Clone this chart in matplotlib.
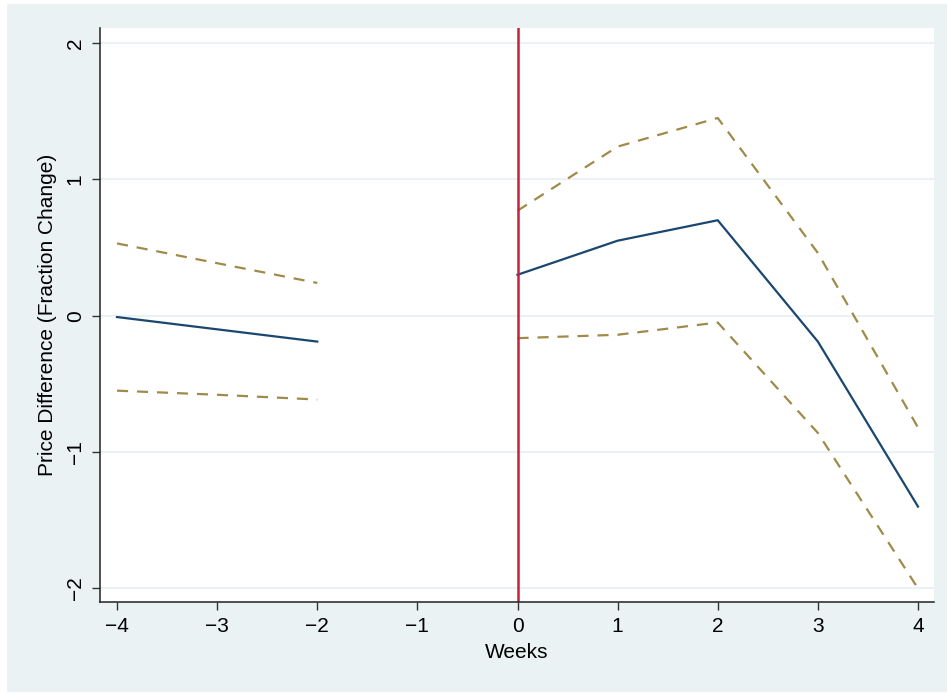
import matplotlib
matplotlib.use("Agg")
import matplotlib.pyplot as plt
from matplotlib.patches import Rectangle

plt.rcParams['font.family'] = ['Liberation Sans', 'DejaVu Sans']

# event-time estimates, week -1 omitted (reference week)
weeks_pre = [-4, -3, -2]
est_pre = [-0.01, -0.10, -0.19]
hi_pre = [0.53, 0.385, 0.24]
lo_pre = [-0.55, -0.58, -0.615]

weeks_post = [0, 1, 2, 3, 4]
est_post = [0.30, 0.55, 0.70, -0.19, -1.40]
hi_post = [0.77, 1.24, 1.45, 0.46, -0.82]
lo_post = [-0.165, -0.14, -0.05, -0.86, -2.00]

bg = "#EAF2F3"
navy = "#1A476F"
khaki = "#A08A4A"
cranberry = "#C8203F"

fig = plt.figure(figsize=(9.47, 6.93), dpi=100, facecolor="white")
fig.patches.append(Rectangle((7 / 947, 1 / 693), 940 / 947, 688 / 693,
                             transform=fig.transFigure, facecolor=bg,
                             edgecolor="none", zorder=-10))
ax = fig.add_axes([100 / 947, 1 - 602 / 693, 834 / 947, 574 / 693])
ax.set_facecolor("white")

for x, est, hi, lo in [(weeks_pre, est_pre, hi_pre, lo_pre),
                       (weeks_post, est_post, hi_post, lo_post)]:
    ax.plot(x, hi, color=khaki, lw=1.6, ls=(0, (5, 4)))
    ax.plot(x, lo, color=khaki, lw=1.6, ls=(0, (5, 4)))
    ax.plot(x, est, color=navy, lw=1.6)

ax.axvline(0, color=cranberry, lw=1.8)

ax.set_xlim(-4.17, 4.16)
ax.set_ylim(-2.1, 2.11)
ax.set_xticks(range(-4, 5))
ax.set_yticks([-2, -1, 0, 1, 2])
ax.set_xticklabels([str(v).replace("-", "\u2212") for v in range(-4, 5)])
ax.set_yticklabels([str(v).replace("-", "\u2212") for v in [-2, -1, 0, 1, 2]],
                   rotation=90, va="center")
ax.yaxis.grid(True, color=bg, lw=1.5)
ax.set_axisbelow(True)
ax.tick_params(labelsize=15, length=6, width=1, color="#333333", pad=5)

for side in ["top", "right"]:
    ax.spines[side].set_visible(False)
for side in ["left", "bottom"]:
    ax.spines[side].set_color("#222222")
    ax.spines[side].set_linewidth(1.1)

ax.set_xlabel("Weeks", fontsize=15, labelpad=5)
ax.set_ylabel("Price Difference (Fraction Change)", fontsize=15, labelpad=6)

fig.savefig("out.png", dpi=100, facecolor=fig.get_facecolor())
